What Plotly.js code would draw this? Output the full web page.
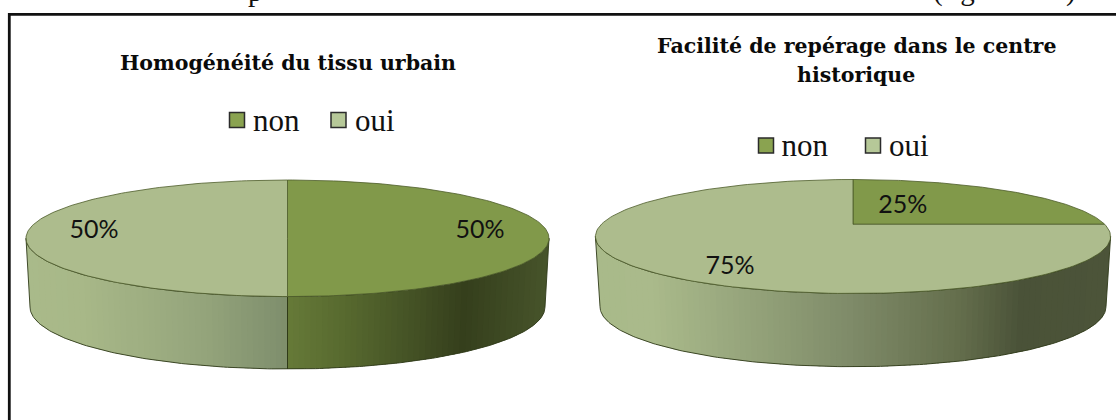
<!DOCTYPE html>
<html>
<head>
<meta charset="utf-8">
<script src="https://cdn.plot.ly/plotly-3.0.1.min.js"></script>
<style>html,body{margin:0;padding:0;background:#fff;overflow:hidden}#chart{width:1116px;height:420px}</style>
</head>
<body>
<div id="chart"></div>
<script>
// ---- data ----
const categories = ["non", "oui"];
const valuesTissu = [50, 50];
const valuesReperage = [25, 75];
const titleTissu = "Homogénéité du tissu urbain";
const titleReperageLines = ["Facilité de repérage dans le centre", "historique"];

// ---- style ----
const topColors = {non: "#81994A", oui: "#ADBC8D"};
const swatchColors = {non: "#8AA350", oui: "#B6C898"};
const EDGE = "#2f3a18";
const SERIF = "Liberation Serif, serif";
const TITLE_SERIF = "DejaVu Serif, serif";
const SANS = "Lato, sans-serif";

const pies = [
  {
    values: valuesTissu,
    cx: 287.5, cy: 238.3, rx: 261.5, ry: 58.3, apexY: 238.3,
    rxB: 257.5, cyB: 307, ryB: 62,
    sideStops: {
      oui: [[26, "#A9BA8A"], [80, "#A8B888"], [200, "#95A57C"], [287, "#7E8E6C"]],
      non: [[287, "#667A38"], [350, "#56682E"], [420, "#424F24"], [465, "#353F1C"], [549, "#47542B"]]
    },
    labelPos: [[480, 231.5], [94, 231.5]],
    swatchX: [237, 338.5], swatchY: 120,
    textX: [253, 355], textY: 123.5,
    strips: 90
  },
  {
    values: valuesReperage,
    cx: 853, cy: 236.5, rx: 257.6, ry: 57, apexY: 224.3,
    rxB: 253, cyB: 306.7, ryB: 60,
    sideStops: {
      oui: [[596, "#A9BA8A"], [650, "#AABA8B"], [790, "#8C9A74"], [853, "#7E8A68"], [960, "#646E4C"], [1022, "#4A5238"], [1111, "#4C5439"]],
      non: [[596, "#667A38"], [1111, "#47542B"]]
    },
    labelPos: [[902.7, 206.5], [730, 268]],
    swatchX: [766, 873], swatchY: 145.5,
    textX: [781.5, 889], textY: 148.5,
    strips: 90
  }
];

function hex(c) { return [1, 3, 5].map(i => parseInt(c.substr(i, 2), 16)); }
function colorAt(stops, x) {
  if (x <= stops[0][0]) return stops[0][1];
  for (let i = 1; i < stops.length; i++) {
    if (x <= stops[i][0]) {
      const t = (x - stops[i - 1][0]) / (stops[i][0] - stops[i - 1][0]);
      const a = hex(stops[i - 1][1]), b = hex(stops[i][1]);
      return "rgb(" + a.map((v, k) => Math.round(v + (b[k] - v) * t)).join(",") + ")";
    }
  }
  return stops[stops.length - 1][1];
}

// Point of the top ellipse reached at a given share of the pie (clockwise from 12 o'clock)
function rimPoint(p, share) {
  const th = share * 2 * Math.PI;
  const dx = Math.sin(th), dy = -Math.cos(th);
  const ax = 0, ay = (p.apexY - p.cy) / p.ry;
  const b = ax * dx + ay * dy, c = ax * ax + ay * ay - 1;
  const t = -b + Math.sqrt(b * b - c);
  return [p.cx + p.rx * (ax + t * dx), p.cy + p.ry * (ay + t * dy)];
}
// Which category owns a point of the rim
function categoryAtRim(p, x, y) {
  let th = Math.atan2((x - p.cx) / p.rx, -(y - p.apexY) / p.ry);
  if (th < 0) th += 2 * Math.PI;
  const share = th / (2 * Math.PI);
  const total = p.values.reduce((a, b) => a + b, 0);
  let acc = 0;
  for (let i = 0; i < p.values.length; i++) {
    acc += p.values[i] / total;
    if (share <= acc + 1e-9) return categories[i];
  }
  return categories[categories.length - 1];
}

const traces = [];
const base = {type: "scatter", hoverinfo: "skip", showlegend: false};

pies.forEach(p => {
  const total = p.values.reduce((a, b) => a + b, 0);

  // side wall, drawn as vertical colour bands painted left to right with a slight overlap
  const topAt = u => [p.cx + p.rx * u, p.cy + p.ry * Math.sqrt(Math.max(0, 1 - u * u))];
  const botAt = u => [p.cx + p.rxB * u, p.cyB + p.ryB * Math.sqrt(Math.max(0, 1 - u * u))];
  const overlap = 1.2 / p.rx;
  for (let i = 0; i < p.strips; i++) {
    const u0 = -1 + 2 * i / p.strips;
    const uEnd = -1 + 2 * (i + 1) / p.strips;
    const u1 = Math.min(1, uEnd + overlap), n = 6;
    const xs = [], ys = [], back = [];
    for (let k = 0; k <= n; k++) {
      const u = u0 + (u1 - u0) * k / n;
      const a = topAt(u), b = botAt(u);
      xs.push(a[0]); ys.push(a[1]); back.unshift(b);
    }
    back.forEach(b => { xs.push(b[0]); ys.push(b[1]); });
    const mid = topAt((u0 + uEnd) / 2);
    const cat = categoryAtRim(p, mid[0], mid[1]);
    const col = colorAt(p.sideStops[cat], mid[0]);
    traces.push(Object.assign({}, base, {
      x: xs, y: ys, mode: "none", fill: "toself", fillcolor: col
    }));
  }

  // side wall outline
  const oX = [], oY = [];
  const N = 200;
  for (let i = 0; i <= N; i++) { const a = topAt(-Math.cos(Math.PI * i / N)); oX.push(a[0]); oY.push(a[1]); }
  for (let i = N; i >= 0; i--) { const b = botAt(-Math.cos(Math.PI * i / N)); oX.push(b[0]); oY.push(b[1]); }
  oX.push(oX[0]); oY.push(oY[0]);
  traces.push(Object.assign({}, base, {x: oX, y: oY, mode: "lines", line: {color: EDGE, width: 0.9}}));

  // side wall seams where a slice boundary falls on the lower rim
  let acc0 = 0;
  p.values.forEach(v => {
    acc0 += v / total;
    const pt = rimPoint(p, acc0);
    if (pt[1] >= p.cy + 1) {
      const u = (pt[0] - p.cx) / p.rx;
      const b = botAt(u);
      traces.push(Object.assign({}, base, {x: [pt[0], b[0]], y: [pt[1], b[1]], mode: "lines", line: {color: EDGE, width: 1}}));
    }
  });

  // top slices
  let acc = 0;
  p.values.forEach((v, i) => {
    const from = acc, to = acc + v / total;
    acc = to;
    const xs = [p.cx], ys = [p.apexY];
    const steps = 160;
    for (let k = 0; k <= steps; k++) {
      const pt = rimPoint(p, from + (to - from) * k / steps);
      xs.push(pt[0]); ys.push(pt[1]);
    }
    xs.push(p.cx); ys.push(p.apexY);
    traces.push(Object.assign({}, base, {
      x: xs, y: ys, mode: "lines", fill: "toself",
      fillcolor: topColors[categories[i]],
      line: {color: "#4d5c2a", width: 0.8}
    }));
  });

  // percentage labels, from the values
  traces.push(Object.assign({}, base, {
    x: p.labelPos.map(q => q[0]), y: p.labelPos.map(q => q[1]),
    mode: "text", text: p.values.map(v => v + "%"), textposition: "middle center",
    textfont: {family: SANS, size: 25, color: "#111111"}
  }));

  // legend
  categories.forEach((c, i) => {
    traces.push(Object.assign({}, base, {
      name: c, x: [p.swatchX[i]], y: [p.swatchY], mode: "markers",
      marker: {symbol: "square", size: 15, color: swatchColors[c], line: {color: "#2b2b2b", width: 1.5}}
    }));
    traces.push(Object.assign({}, base, {
      x: [p.textX[i]], y: [p.textY], mode: "text",
      text: [c], textposition: "middle right",
      textfont: {family: SERIF, size: 31, color: "#111111"}
    }));
  });
});

const layout = {
  width: 1116, height: 420,
  margin: {l: 0, r: 0, t: 0, b: 0},
  paper_bgcolor: "#ffffff", plot_bgcolor: "#ffffff",
  showlegend: false,
  xaxis: {range: [0, 1116], visible: false, fixedrange: true},
  yaxis: {range: [420, 0], visible: false, fixedrange: true},
  shapes: [
    {type: "line", xref: "x", yref: "y", x0: 9.3, x1: 9.3, y0: 13, y1: 420, line: {color: "#111111", width: 2.8}},
    {type: "line", xref: "x", yref: "y", x0: 8, x1: 1116, y0: 14.4, y1: 14.4, line: {color: "#111111", width: 2.8}}
  ],
  annotations: [
    {xref: "x", yref: "y", x: 288, y: 63, text: titleTissu, showarrow: false,
     font: {family: TITLE_SERIF, size: 20.5, color: "#0a0a0a", weight: 700}},
    {xref: "x", yref: "y", x: 856, y: 46, text: titleReperageLines[0], showarrow: false,
     font: {family: TITLE_SERIF, size: 20.5, color: "#0a0a0a", weight: 700}},
    {xref: "x", yref: "y", x: 856, y: 75, text: titleReperageLines[1], showarrow: false,
     font: {family: TITLE_SERIF, size: 20.5, color: "#0a0a0a", weight: 700}},
    {xref: "x", yref: "paper", x: 247, xanchor: "left", y: 1, yanchor: "bottom", yshift: -8, text: "p", showarrow: false, borderpad: 0,
     font: {family: SERIF, size: 29, color: "#111111"}},
    {xref: "x", yref: "paper", x: 932, xanchor: "left", y: 1, yanchor: "bottom", yshift: -8, text: "(figure", showarrow: false, borderpad: 0,
     font: {family: SERIF, size: 29, color: "#111111"}},
    {xref: "x", yref: "paper", x: 1065, xanchor: "left", y: 1, yanchor: "bottom", yshift: -8, text: ")", showarrow: false, borderpad: 0,
     font: {family: SERIF, size: 29, color: "#111111"}}
  ]
};

Plotly.newPlot("chart", traces, layout, {displayModeBar: false, staticPlot: true});
</script>
</body>
</html>
